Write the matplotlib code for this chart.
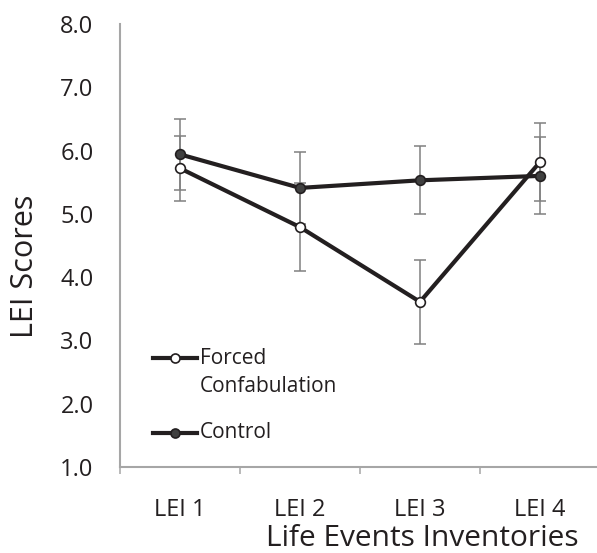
import matplotlib.pyplot as plt
import numpy as np

# data
categories = ['LEI 1', 'LEI 2', 'LEI 3', 'LEI 4']
forced = [5.72, 4.79, 3.61, 5.82]
forced_err = [0.51, 0.70, 0.66, 0.61]
control = [5.94, 5.41, 5.53, 5.60]
control_err = [0.56, 0.57, 0.54, 0.61]
yticks = [1.0, 2.0, 3.0, 4.0, 5.0, 6.0, 7.0, 8.0]

plt.rcParams['font.family'] = ['Open Sans', 'DejaVu Sans']
line_col = '#231f20'
err_col = '#808080'
axis_col = '#a6a6a6'
text_col = '#231f20'

fig = plt.figure(figsize=(5.97, 5.53), dpi=100)
ax = fig.add_axes([120 / 597, 86 / 553, 480 / 597, 443 / 553])

x = np.arange(len(categories))

# error bars first, sit behind the lines
ax.errorbar(x, forced, yerr=forced_err, fmt='none', ecolor=err_col,
            elinewidth=1.1, capsize=4, capthick=1.1, zorder=1)
ax.errorbar(x, control, yerr=control_err, fmt='none', ecolor=err_col,
            elinewidth=1.1, capsize=4, capthick=1.1, zorder=1)

ax.plot(x, forced, color=line_col, lw=3, marker='o', ms=7,
        mfc='white', mec=line_col, mew=1.2, zorder=3)
ax.plot(x, control, color=line_col, lw=3, marker='o', ms=7,
        mfc='#404040', mec=line_col, mew=1.2, zorder=3)

# legend drawn by hand (handle sits on the first line of a two-line label)
for yy, face, label in [(0.246, 'white', 'Forced'), (0.077, '#404040', 'Control')]:
    ax.plot([0.069, 0.161], [yy, yy], transform=ax.transAxes, color=line_col,
            lw=3, clip_on=False, zorder=4)
    ax.plot([0.115], [yy], transform=ax.transAxes, marker='o', ms=6.5,
            mfc=face, mec=line_col, mew=1.2, clip_on=False, zorder=5)
    ax.text(0.166, yy, label, transform=ax.transAxes, fontsize=15,
            color=text_col, va='center', ha='left')
ax.text(0.166, 0.181, 'Confabulation', transform=ax.transAxes, fontsize=15,
        color=text_col, va='center', ha='left')

ax.set_xlim(-0.5, 3.5)
ax.set_ylim(1.0, 8.0)
ax.set_yticks(yticks)
ax.set_yticklabels(['%.1f' % v for v in yticks])
ax.set_xticks(x)
ax.set_xticklabels(categories)
ax.set_xticks(np.arange(-0.5, 4.0, 1.0), minor=True)

ax.tick_params(axis='y', length=0, pad=19, labelsize=17, labelcolor=text_col)
ax.tick_params(axis='x', which='major', length=0, pad=22.5, labelsize=17,
               labelcolor=text_col)
ax.tick_params(axis='x', which='minor', length=5, width=1.1, color=axis_col)

for side in ['top', 'right']:
    ax.spines[side].set_visible(False)
for side in ['left', 'bottom']:
    ax.spines[side].set_color(axis_col)
    ax.spines[side].set_linewidth(1.5)

ax.set_xlabel('Life Events Inventories', fontsize=21.5, color=text_col,
              va='baseline')
ax.xaxis.set_label_coords(0.63, -0.1775)
ax.set_ylabel('LEI Scores', fontsize=22, color=text_col, va='center')
ax.yaxis.set_label_coords(-0.198, 0.454)

fig.savefig('out.png', dpi=100)
